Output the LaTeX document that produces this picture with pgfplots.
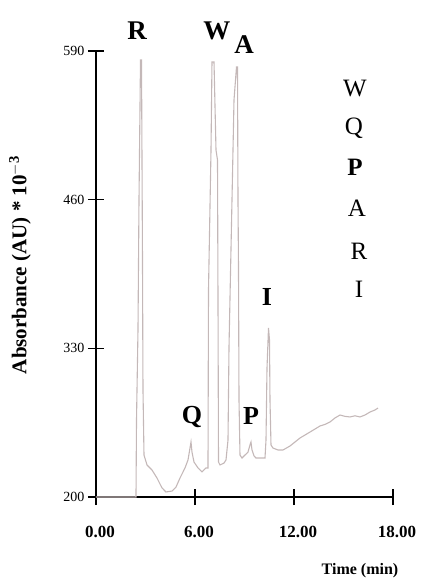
\documentclass[border=0pt]{standalone}
\usepackage{fontspec}
\setmainfont{Liberation Serif}
\usepackage{pgfplots}
\pgfplotsset{compat=1.18}
\definecolor{trace}{RGB}{196,184,184}

\begin{document}
\begin{tikzpicture}
% page is 426 x 581 (1px = 1pt), axis box sits 96pt from the left and 84pt from the bottom
\useasboundingbox (-96pt,-84pt) rectangle (330pt,497pt);
\begin{axis}[
  at={(0,0)}, anchor=south west,
  scale only axis, width=297pt, height=446pt,
  xmin=0, xmax=18, ymin=200, ymax=590,
  axis x line=bottom, axis y line=left,
  axis line style={line width=1.3pt, black, -},
  xtick={0,6,12,18}, ytick={200,330,460,590},
  tick align=center, major tick length=16pt,
  tick style={line width=1.3pt, black},
  /pgf/number format/assume math mode=true,
  xticklabel style={font=\fontsize{17}{17}\selectfont\bfseries, xshift=4pt,
    /pgf/number format/.cd, fixed, fixed zerofill, precision=2},
  yticklabel style={font=\fontsize{14}{14}\selectfont,
    /pgf/number format/.cd, fixed, precision=0},
  xticklabel shift=18pt,
  xlabel={Time (min)},
  ylabel={Absorbance (AU) * 10$^{\mathbf{-3}}$},
  every axis x label/.style={at={(rel axis cs:0.889,-0.165)}, anchor=center,
    font=\fontsize{16}{16}\selectfont\bfseries},
  every axis y label/.style={at={(rel axis cs:-0.256,0.52)}, rotate=90, anchor=center,
    font=\fontsize{21}{21}\selectfont\bfseries},
  clip=false,
]
\addplot[color=trace, line width=1.1pt] coordinates {
  (0,200)(2.424,200)(2.455,267.3)(2.545,346.0)(2.606,459.7)(2.697,582.1)(2.758,582.1)
  (2.818,407.2)(2.848,293.6)(2.909,236.7)(3.091,228.0)(3.394,223.6)(3.697,216.6)
  (4.000,207.9)(4.242,204.4)(4.606,205.2)(4.848,208.7)(5.091,216.6)(5.394,225.4)
  (5.576,232.4)(5.697,242.8)(5.758,248.1)(5.818,239.3)(5.939,230.6)(6.182,225.4)
  (6.424,221.9)(6.667,225.4)(6.788,225.4)(6.818,381.0)(6.970,503.4)(7.030,580.4)
  (7.152,580.4)(7.273,503.4)(7.364,494.7)(7.394,372.3)(7.424,230.6)(7.515,228.0)
  (7.758,229.7)(7.879,232.4)(8.000,249.8)(8.061,331.2)(8.242,459.7)(8.364,547.2)
  (8.515,576.0)(8.576,576.0)(8.606,459.7)(8.636,401.1)(8.667,284.8)(8.727,236.7)
  (8.848,234.1)(9.030,236.7)(9.212,239.3)(9.333,245.5)(9.394,248.1)(9.455,241.1)
  (9.576,235.9)(9.697,234.1)(10.061,234.1)(10.242,234.1)(10.303,249.8)(10.364,312.8)
  (10.455,347.8)(10.515,337.3)(10.545,284.8)(10.606,245.5)(10.727,242.8)(11.030,241.1)
  (11.333,241.1)(11.758,244.6)(12.061,248.1)(12.364,251.6)(12.970,256.8)(13.576,262.1)
  (13.879,263.5)(14.182,265.6)(14.485,269.1)(14.788,271.7)(15.091,270.5)(15.394,270.0)
  (15.697,271.0)(16.000,270.0)(16.303,271.7)(16.606,274.3)(16.909,276.1)(17.091,277.8)
};
% peak labels
\node[font=\fontsize{27}{27}\selectfont\bfseries] at (axis cs:2.485,607.5) {R};
\node[font=\fontsize{27}{27}\selectfont\bfseries] at (axis cs:7.333,607.5) {W};
\node[font=\fontsize{27}{27}\selectfont\bfseries] at (axis cs:8.970,595.2) {A};
\node[font=\fontsize{26}{26}\selectfont\bfseries] at (axis cs:5.818,270.0) {Q};
\node[font=\fontsize{26}{26}\selectfont\bfseries] at (axis cs:9.394,270.8) {P};
\node[font=\fontsize{26}{26}\selectfont\bfseries] at (axis cs:10.364,374.9) {I};
% elution order
\node[font=\fontsize{25}{25}\selectfont] at (axis cs:15.697,557.6) {W};
\node[font=\fontsize{25}{25}\selectfont] at (axis cs:15.636,522.7) {Q};
\node[font=\fontsize{25}{25}\selectfont\bfseries] at (axis cs:15.697,488.6) {P};
\node[font=\fontsize{25}{25}\selectfont] at (axis cs:15.818,452.7) {A};
\node[font=\fontsize{25}{25}\selectfont] at (axis cs:15.939,415.1) {R};
\node[font=\fontsize{25}{25}\selectfont] at (axis cs:15.939,381.9) {I};
\end{axis}
\end{tikzpicture}
\end{document}
